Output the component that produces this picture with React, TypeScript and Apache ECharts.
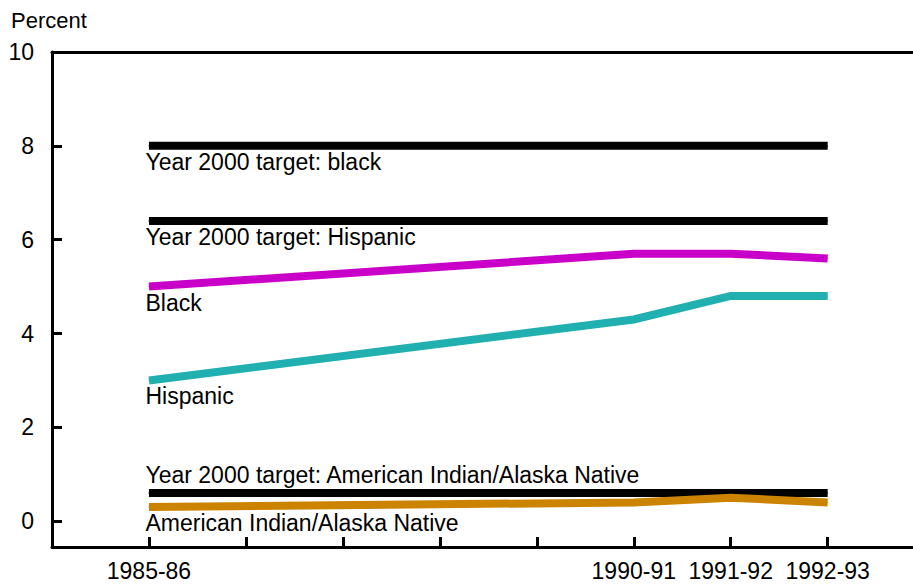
import React, { useEffect, useRef } from "react";
import * as echarts from "echarts";

const categories = ["1985-86", "1986-87", "1987-88", "1988-89", "1989-90", "1990-91", "1991-92", "1992-93"];
const labeledYears = ["1985-86", "1990-91", "1991-92", "1992-93"];
const dataYears = ["1985-86", "1990-91", "1991-92", "1992-93"];
const black = [5.0, 5.7, 5.7, 5.6];
const hispanic = [3.0, 4.3, 4.8, 4.8];
const aian = [0.3, 0.4, 0.5, 0.4];
const targetYears = ["1985-86", "1992-93"];
const blackTarget = 8;
const hispanicTarget = 6.4;
const aianTarget = 0.6;
const yTickLabels = [0, 2, 4, 6, 8, 10];

const FONT = "'Liberation Sans', Arial, Helvetica, sans-serif";
const FS = 23;

function makeSeries(name: string, years: string[], values: number[], color: string, z: number, labelAbove = false) {
  return {
    name,
    type: "line",
    symbol: "circle",
    symbolSize: 1,
    z,
    itemStyle: { color },
    lineStyle: { color, width: 8, cap: "butt", join: "miter" },
    data: years.map((y, i) => {
      const item: any = { value: [categories.indexOf(y), values[i]] };
      if (i === 0) {
        item.label = {
          show: true,
          formatter: name,
          position: labelAbove ? [-3, -6] : [-3, 5],
          align: "left",
          verticalAlign: labelAbove ? "bottom" : "top",
          color: "#000",
          fontSize: FS,
          fontFamily: FONT,
        };
      } else {
        item.label = { show: false };
      }
      return item;
    }),
  };
}

export default function App() {
  const ref = useRef<HTMLDivElement>(null);
  useEffect(() => {
    const chart = echarts.init(ref.current!, null, { renderer: "svg" });
    const axisLineStyle = { color: "#000", width: 3 };
    const tickIdx = categories.map((_, i) => i);
    chart.setOption({
      animation: false,
      textStyle: { fontFamily: FONT },
      grid: { left: 52, right: 0, top: 52, bottom: 37, containLabel: false },
      graphic: [
        {
          type: "text",
          left: 11,
          top: 9,
          style: { text: "Percent", fontSize: 22, fontFamily: FONT, fill: "#000" },
        },
      ],
      xAxis: [
        {
          type: "value",
          min: -1,
          max: 7.88,
          splitLine: { show: false },
          axisLine: { show: true, onZero: false, lineStyle: axisLineStyle },
          axisTick: {
            show: true,
            inside: true,
            length: 10,
            customValues: tickIdx,
            lineStyle: { color: "#000", width: 3 },
          },
          axisLabel: {
            show: true,
            margin: 12,
            fontSize: FS,
            color: "#000",
            fontFamily: FONT,
            customValues: labeledYears.map((c) => categories.indexOf(c)),
            formatter: (v: number) => categories[Math.round(v)] ?? "",
          },
        },
        {
          type: "value",
          position: "top",
          min: -1,
          max: 7.88,
          splitLine: { show: false },
          axisLine: { show: true, onZero: false, lineStyle: axisLineStyle },
          axisTick: { show: false },
          axisLabel: { show: false },
        },
      ],
      yAxis: {
        type: "value",
        min: -0.55,
        max: 10,
        splitLine: { show: false },
        axisLine: { show: true, onZero: false, lineStyle: axisLineStyle },
        axisTick: {
          show: true,
          inside: true,
          length: 10,
          customValues: [0, 2, 4, 6, 8],
          lineStyle: { color: "#000", width: 3 },
        },
        axisLabel: {
          show: true,
          customValues: yTickLabels,
          margin: 18,
          fontSize: FS,
          color: "#000",
          fontFamily: FONT,
        },
      },
      series: [
        makeSeries("Year 2000 target: black", targetYears, [blackTarget, blackTarget], "#000", 3),
        makeSeries("Year 2000 target: Hispanic", targetYears, [hispanicTarget, hispanicTarget], "#000", 3),
        makeSeries("Black", dataYears, black, "#c800c8", 4),
        makeSeries("Hispanic", dataYears, hispanic, "#20b0b0", 4),
        makeSeries("Year 2000 target: American Indian/Alaska Native", targetYears, [aianTarget, aianTarget], "#000", 3, true),
        makeSeries("American Indian/Alaska Native", dataYears, aian, "#cc8400", 4),
      ],
    });
    return () => chart.dispose();
  }, []);
  return (
    <div
      ref={ref}
      style={{ position: "absolute", left: 0, top: 0, width: 913, height: 584, background: "#fff" }}
    />
  );
}
